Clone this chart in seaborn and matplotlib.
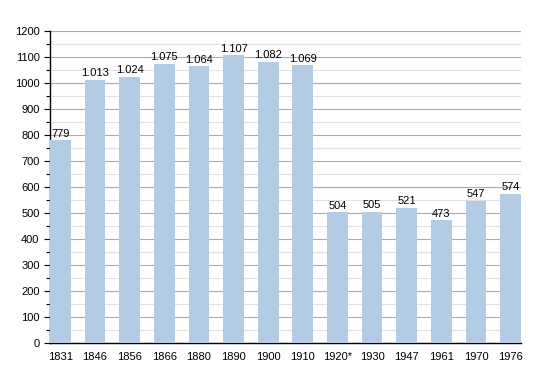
import matplotlib
matplotlib.use("Agg")
import matplotlib.pyplot as plt
from matplotlib.ticker import MultipleLocator
import seaborn as sns
import pandas as pd

years = ['1831', '1846', '1856', '1866', '1880', '1890', '1900', '1910',
         '1920*', '1930', '1947', '1961', '1970', '1976']
population = [779, 1013, 1024, 1075, 1064, 1107, 1082, 1069,
              504, 505, 521, 473, 547, 574]

df = pd.DataFrame({'year': years, 'pop': population})

sns.set_style('white')
plt.rcParams['font.family'] = ['Liberation Sans', 'DejaVu Sans']
plt.rcParams['text.color'] = 'black'
plt.rcParams['xtick.color'] = 'black'
plt.rcParams['ytick.color'] = 'black'

fig = plt.figure(figsize=(5.5, 3.73), dpi=100)
ax = fig.add_axes([50 / 550, 30 / 373, 471 / 550, 312 / 373])

sns.barplot(data=df, x='year', y='pop', color='#b3cbe5', saturation=1,
            width=0.6, linewidth=0, ax=ax, zorder=3)

# german style thousands separator
labels = [f'{v:,}'.replace(',', '.') for v in population]
ax.bar_label(ax.containers[0], labels=labels, fontsize=8, padding=1,
             color='black')

ax.set_ylim(0, 1200)
ax.set_xlim(-0.3, 13.3)
ax.yaxis.set_major_locator(MultipleLocator(100))
ax.yaxis.set_minor_locator(MultipleLocator(50))
ax.grid(axis='y', which='major', color='#aaaaaa', linewidth=0.8, zorder=0)
ax.grid(axis='y', which='minor', color='#e2e2e2', linewidth=0.8, zorder=0)
ax.set_axisbelow(True)

for s in ['top', 'right']:
    ax.spines[s].set_visible(False)
for s in ['left', 'bottom']:
    ax.spines[s].set_color('black')
    ax.spines[s].set_linewidth(1)

ax.tick_params(axis='y', which='both', left=True, direction='out',
               labelsize=8, length=4, width=0.8)
ax.tick_params(axis='y', which='minor', length=3)
ax.tick_params(axis='x', bottom=False, labelsize=8, pad=3)
ax.set_xlabel('')
ax.set_ylabel('')

fig.savefig('out.png', dpi=100)
